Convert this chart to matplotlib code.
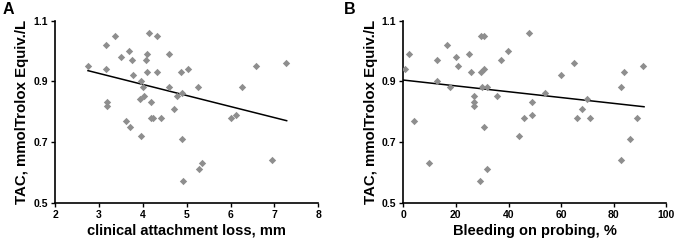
import numpy as np
import matplotlib.pyplot as plt

plt.rcParams['font.family'] = ['Liberation Sans', 'DejaVu Sans']
plt.rcParams['font.weight'] = 'bold'

# panel A: clinical attachment loss (mm) vs TAC
cal_x = [2.75, 3.16, 3.37, 3.16, 3.19, 3.19, 3.50, 3.68, 3.75, 3.78, 3.61, 3.71,
         3.95, 3.94, 3.97, 4.01, 4.03, 4.09, 4.07, 4.09, 4.13, 4.18, 4.18, 4.24,
         4.32, 4.32, 4.41, 4.60, 4.60, 4.72, 4.79, 4.87, 4.89, 4.89, 4.91, 5.02,
         5.25, 5.28, 5.35, 6.01, 6.12, 6.26, 6.57, 6.95, 7.27]
cal_y = [0.95, 1.02, 1.05, 0.94, 0.83, 0.82, 0.98, 1.00, 0.97, 0.92, 0.77, 0.75,
         0.72, 0.84, 0.90, 0.88, 0.85, 0.99, 0.97, 0.93, 1.06, 0.83, 0.78, 0.78,
         1.05, 0.93, 0.78, 0.99, 0.88, 0.81, 0.85, 0.93, 0.86, 0.71, 0.57, 0.94,
         0.88, 0.61, 0.63, 0.78, 0.79, 0.88, 0.95, 0.64, 0.96]
cal_trend_x = [2.75, 7.28]
cal_trend_y = [0.935, 0.770]

# panel B: bleeding on probing (%) vs TAC
bop_x = [0.8, 2, 4, 9.7, 12.9, 12.9, 16.7, 17.7, 19.9, 20.9, 24.8, 25.8, 27, 27,
         27, 29, 29.7, 30.8, 29.7, 30.6, 30, 31.9, 30.8, 31.9, 35.8, 37, 39.9,
         43.9, 47.8, 45.8, 49, 49, 54, 59.9, 65, 66, 68, 70, 71, 82.9, 82.9,
         83.9, 86, 89, 91]
bop_y = [0.94, 0.99, 0.77, 0.63, 0.97, 0.90, 1.02, 0.88, 0.98, 0.95, 0.99, 0.93,
         0.85, 0.83, 0.82, 0.57, 1.05, 1.05, 0.93, 0.94, 0.88, 0.88, 0.75, 0.61,
         0.85, 0.97, 1.00, 0.72, 1.06, 0.78, 0.83, 0.79, 0.86, 0.92, 0.96, 0.78,
         0.81, 0.84, 0.78, 0.88, 0.64, 0.93, 0.71, 0.78, 0.95]
bop_trend_x = [0, 91.5]
bop_trend_y = [0.904, 0.816]

y_ticks = [0.5, 0.7, 0.9, 1.1]
ylabel = "TAC, mmolTrolox Equiv./L"

fig = plt.figure(figsize=(6.8, 2.45), dpi=100)
ax_a = fig.add_axes([0.081, 0.173, 0.387, 0.743])
ax_b = fig.add_axes([0.593, 0.173, 0.387, 0.743])


def panel(ax, x, y, tx, ty, xlim, xticks, xlabel):
    ax.scatter(x, y, marker="D", s=14, color="#8e8e8e", linewidths=0, zorder=3)
    ax.plot(tx, ty, color="black", lw=1.1, zorder=2)
    ax.set_xlim(xlim)
    ax.set_ylim(0.5, 1.1)
    ax.set_xticks(xticks)
    ax.set_yticks(y_ticks)
    ax.set_yticklabels(["%.1f" % v for v in y_ticks])
    ax.spines["top"].set_visible(False)
    ax.spines["right"].set_visible(False)
    ax.spines["left"].set_linewidth(1.2)
    ax.spines["bottom"].set_linewidth(1.2)
    ax.tick_params(labelsize=7.5, length=3, width=1, pad=2)
    ax.set_xlabel(xlabel, fontsize=10.5, fontweight="bold", labelpad=3)
    ax.set_ylabel(ylabel, fontsize=10.8, fontweight="bold", labelpad=3)


panel(ax_a, cal_x, cal_y, cal_trend_x, cal_trend_y, (2, 8), range(2, 9),
      "clinical attachment loss, mm")
panel(ax_b, bop_x, bop_y, bop_trend_x, bop_trend_y, (0, 100), range(0, 101, 20),
      "Bleeding on probing, %")

fig.text(3 / 680, 1 - 10 / 245, "A", fontsize=11.5, fontweight="bold", va="center", ha="left")
fig.text(344 / 680, 1 - 10 / 245, "B", fontsize=11.5, fontweight="bold", va="center", ha="left")

fig.savefig("out.png", dpi=100)
